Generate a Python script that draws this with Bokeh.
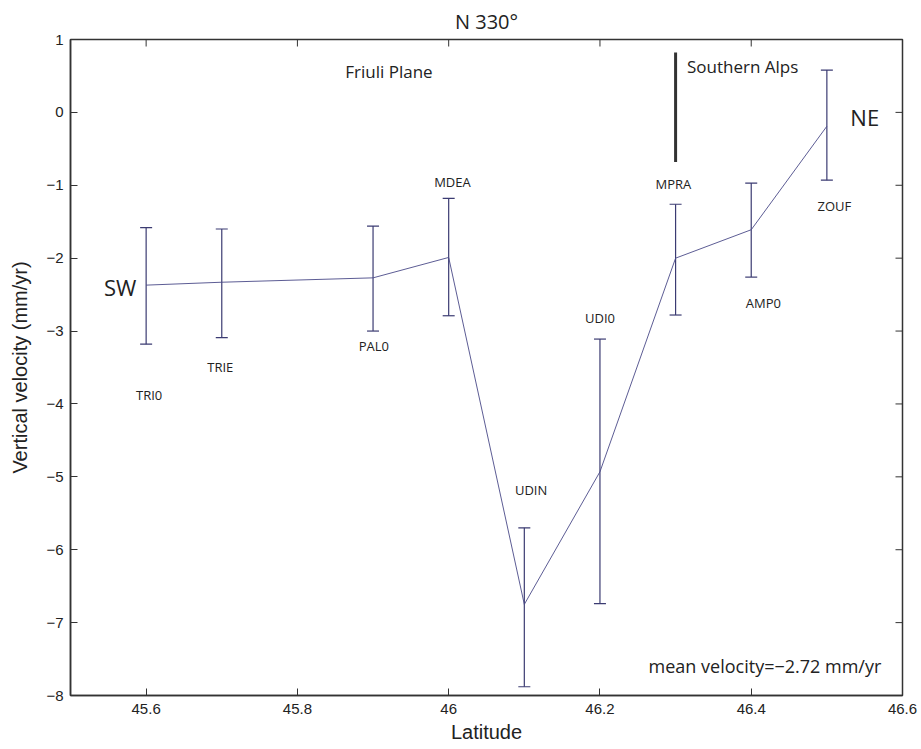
import math
from bokeh.plotting import figure
from bokeh.models import Whisker, TeeHead, ColumnDataSource, FixedTicker, Range1d
from bokeh.core.properties import value
from bokeh.embed import file_html
from bokeh.resources import INLINE

# ---- data ----
stations = ["TRI0", "TRIE", "PAL0", "MDEA", "UDIN", "UDI0", "MPRA", "AMP0", "ZOUF"]
latitude = [45.6, 45.7, 45.9, 46.0, 46.1, 46.2, 46.3, 46.4, 46.5]
velocity = [-2.37, -2.33, -2.27, -1.99, -6.75, -4.93, -2.00, -1.61, -0.19]
err_upper = [-1.58, -1.60, -1.56, -1.18, -5.70, -3.11, -1.26, -0.97, 0.58]
err_lower = [-3.18, -3.09, -3.00, -2.79, -7.88, -6.74, -2.78, -2.26, -0.93]

# station label anchor positions (data coords)
label_lat = [45.604, 45.698, 45.901, 46.005, 46.109, 46.20, 46.297, 46.416, 46.51]
label_vel = [-3.88, -3.49, -3.21, -0.95, -5.18, -2.82, -0.98, -2.61, -1.28]

x_ticks = [45.6, 45.8, 46.0, 46.2, 46.4, 46.6]
x_tick_labels = ["45.6", "45.8", "46", "46.2", "46.4", "46.6"]
y_ticks = [-8, -7, -6, -5, -4, -3, -2, -1, 0, 1]
y_tick_labels = ["\u22128", "\u22127", "\u22126", "\u22125", "\u22124", "\u22123", "\u22122", "\u22121", "0", "1"]

x_min, x_max = 45.5, 46.6
y_min, y_max = -8, 1

boundary_lat = [46.3]
boundary_top = [0.82]
boundary_bottom = [-0.68]

mean_text = "mean velocity=\u22122.72 mm/yr"

# ---- figure ----
p = figure(frame_width=832, frame_height=656,
           x_range=Range1d(x_min, x_max), y_range=Range1d(y_min, y_max),
           output_backend="svg", toolbar_location=None, title="N 330\u00b0",
           min_border_left=70, min_border_right=19, min_border_top=39, min_border_bottom=54)
p.background_fill_color = "white"
p.border_fill_color = "white"
p.grid.visible = False
p.outline_line_color = "#333333"
p.outline_line_width = 1.5

p.title.align = "center"
p.title.text_font = "Open Sans"
p.title.text_font_size = "20px"
p.title.text_font_style = "normal"
p.title.text_color = "#222222"
p.title.offset = 0

axis_font = "Liberation Sans"
for ax in (p.xaxis[0], p.yaxis[0]):
    ax.major_tick_in = 7
    ax.major_tick_out = 0
    ax.minor_tick_line_color = None
    ax.axis_line_color = "#333333"
    ax.axis_line_width = 1.5
    ax.major_tick_line_color = "#333333"
    ax.major_label_text_font = axis_font
    ax.major_label_text_color = "#222222"
    ax.axis_label_text_font = axis_font
    ax.axis_label_text_font_size = "20px"
    ax.axis_label_text_font_style = "normal"
    ax.axis_label_text_color = "#222222"

p.xaxis.ticker = FixedTicker(ticks=x_ticks)
p.xaxis.major_label_overrides = dict(zip(x_ticks, x_tick_labels))
p.xaxis.major_label_text_font_size = "15px"
p.xaxis.axis_label = "Latitude"
p.xaxis.major_label_standoff = 8
p.xaxis.axis_label_standoff = 4

p.yaxis.ticker = FixedTicker(ticks=y_ticks)
p.yaxis.major_label_overrides = dict(zip(y_ticks, y_tick_labels))
p.yaxis.major_label_text_font_size = "15px"
p.yaxis.axis_label = "Vertical velocity (mm/yr)"
p.yaxis.major_label_standoff = 7
p.yaxis.axis_label_standoff = 12

# inward ticks on the top and right edges of the box
top_ticks = [t for t in x_ticks if t < x_max]
right_ticks = [t for t in y_ticks if y_min < t < y_max]
p.ray(x=top_ticks, y=[y_max] * len(top_ticks), length=7, length_units="screen",
      angle=-math.pi / 2, line_color="#333333", line_width=1)
p.ray(x=[x_max] * len(right_ticks), y=right_ticks, length=7, length_units="screen",
      angle=math.pi, line_color="#333333", line_width=1)

col = "#3b3b72"
src = ColumnDataSource(dict(lat=latitude, vel=velocity, upper=err_upper, lower=err_lower))

p.line("lat", "vel", source=src, line_color="#4a4a88", line_width=0.9)
p.add_layout(Whisker(source=src, base="lat", upper="upper", lower="lower", dimension="height",
                     line_color=col, line_width=1.2,
                     upper_head=TeeHead(size=12, line_color=col, line_width=1.2),
                     lower_head=TeeHead(size=12, line_color=col, line_width=1.2)))

# boundary marker
p.segment(x0=boundary_lat, y0=boundary_top, x1=boundary_lat, y1=boundary_bottom,
          line_color="#333333", line_width=3)

# station labels
p.text(x=label_lat, y=label_vel, text=stations, text_font=value("Open Sans"),
       text_font_size="13px", text_align="center", text_baseline="middle", text_color="#222222")

# region / direction labels
p.text(x=[45.921], y=[0.56], text=["Friuli Plane"], text_font=value("Open Sans"),
       text_font_size="17px", text_align="center", text_baseline="middle", text_color="#222222")
p.text(x=[46.315], y=[0.63], text=["Southern Alps"], text_font=value("Open Sans"),
       text_font_size="17px", text_align="left", text_baseline="middle", text_color="#222222")
p.text(x=[46.531], y=[-0.07], text=["NE"], text_font=value("Open Sans"),
       text_font_size="22px", text_align="left", text_baseline="middle", text_color="#222222")
p.text(x=[45.587], y=[-2.40], text=["SW"], text_font=value("Open Sans"),
       text_font_size="22px", text_align="right", text_baseline="middle", text_color="#222222")
p.text(x=[46.572], y=[-7.59], text=[mean_text], text_font=value("Open Sans"),
       text_font_size="18px", text_align="right", text_baseline="middle", text_color="#222222")

open("out.html", "w").write(file_html(p, INLINE))
